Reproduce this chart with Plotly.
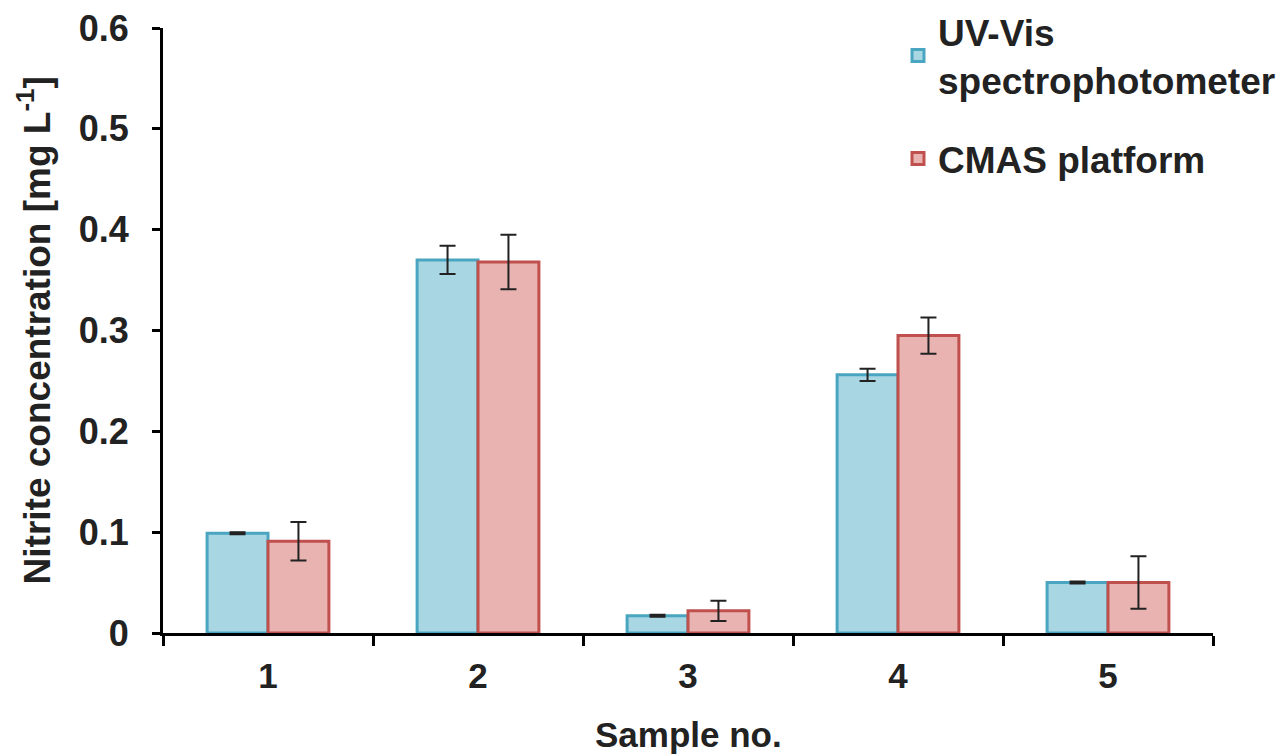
import plotly.graph_objects as go

samples = ["1", "2", "3", "4", "5"]
uv_vis = [0.099, 0.370, 0.017, 0.256, 0.050]
uv_vis_err = [0.001, 0.014, 0.001, 0.006, 0.001]
cmas = [0.091, 0.368, 0.022, 0.295, 0.050]
cmas_err = [0.019, 0.027, 0.010, 0.018, 0.026]
y_ticks = [0, 0.1, 0.2, 0.3, 0.4, 0.5, 0.6]
y_tick_labels = ["0", "0.1", "0.2", "0.3", "0.4", "0.5", "0.6"]

fig = go.Figure()
fig.add_trace(go.Bar(
    x=samples, y=uv_vis, name="<b>UV-Vis<br>spectrophotometer</b>", legendgroup="uv",
    marker=dict(color="#a9d6e3", line=dict(color="#4aa6c0", width=3)),
    error_y=dict(type="data", array=uv_vis_err, color="#222", thickness=2, width=8),
))
fig.add_trace(go.Bar(
    x=samples, y=cmas, name="<b>CMAS platform</b>", legendgroup="cmas",
    marker=dict(color="#e8b3b0", line=dict(color="#c0504d", width=3)),
    error_y=dict(type="data", array=cmas_err, color="#222", thickness=2, width=8),
))

font_family = "Liberation Sans, Arial, sans-serif"
fig.update_layout(
    width=1286, height=754,
    margin=dict(l=155, r=81, t=20, b=129, autoexpand=False),
    paper_bgcolor="white", plot_bgcolor="white",
    barmode="group", bargap=0.42, bargroupgap=0,
    font=dict(family=font_family, size=34, color="#222"),
    legend=dict(x=0.70, y=1.045, xanchor="left", yanchor="top",
                font=dict(size=37, color="#222"), tracegroupgap=28,
                bgcolor="rgba(0,0,0,0)"),
    showlegend=True,
    annotations=[
        dict(text="<b>Sample no.</b>", xref="paper", yref="paper", x=0.5, y=-0.168,
             xanchor="center", yanchor="middle", showarrow=False,
             font=dict(size=35, color="#222")),
        dict(text="<b>Nitrite concentration [mg L<sup>-1</sup>]</b>", xref="paper", yref="paper",
             x=-0.122, y=0.5, xanchor="center", yanchor="middle", textangle=-90,
             showarrow=False, font=dict(size=37, color="#222")),
    ],
)
fig.update_xaxes(
    type="category", tickson="boundaries", ticks="outside", ticklen=10, tickwidth=3,
    tickcolor="black", showline=True, linecolor="black", linewidth=3,
    showgrid=False, tickfont=dict(size=35, color="#222"), automargin=False,
    tickvals=samples, ticktext=["<b>%s</b>" % s for s in samples],
    ticklabeloverflow="allow", ticklabelstandoff=10,
)
fig.update_yaxes(
    range=[0, 0.6], tickvals=y_ticks,
    ticktext=["<b>%s</b>" % t for t in y_tick_labels],
    ticks="outside", ticklen=8, tickwidth=3, tickcolor="black",
    showline=True, linecolor="black", linewidth=3, showgrid=False, zeroline=False,
    tickfont=dict(size=36, color="#222"), automargin=False, ticklabelstandoff=16,
    ticklabeloverflow="allow",
)

fig.write_html("out.html")
